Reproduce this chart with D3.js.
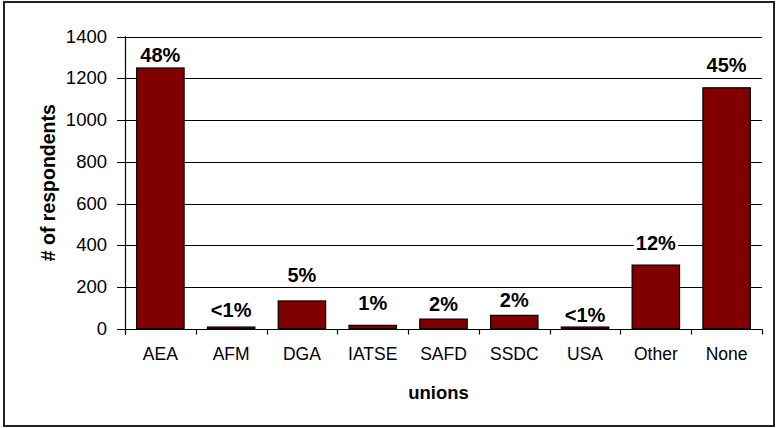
<!DOCTYPE html>
<html>
<head>
<meta charset="utf-8">
<script src="https://cdn.jsdelivr.net/npm/d3@7"></script>
<style>
  html, body { margin: 0; padding: 0; background: #fff; }
  svg { display: block; font-family: Arial, "Liberation Sans", sans-serif; }
</style>
</head>
<body>
<svg id="chart" width="776" height="428"></svg>
<script>
// ---- data ----
const categories = ["AEA", "AFM", "DGA", "IATSE", "SAFD", "SSDC", "USA", "Other", "None"];
const respondents = [1250, 8, 133, 16, 46, 64, 8, 305, 1155];
const percentLabels = ["48%", "<1%", "5%", "1%", "2%", "2%", "<1%", "12%", "45%"];
// value (in respondents) at which each label's baseline sits, as placed in the original
const labelAnchors = [1280, 57, 222, 90, 86, 103, 34, 377, 1229];
const yTicks = [0, 200, 400, 600, 800, 1000, 1200, 1400];
const xTitle = "unions";
const yTitle = "# of respondents";

// ---- layout ----
const W = 776, H = 428;
const plot = { left: 125, right: 762, top: 36.7, bottom: 328.7 };
const barColor = "#800000";

const svg = d3.select("#chart");

// outer frame
svg.append("rect")
  .attr("x", 4).attr("y", 2).attr("width", 770).attr("height", 424)
  .attr("fill", "#fff").attr("stroke", "#222").attr("stroke-width", 2);

const x = d3.scaleBand()
  .domain(categories)
  .range([plot.left, plot.right])
  .paddingInner(0.33)
  .paddingOuter(0.165);

const y = d3.scaleLinear()
  .domain([0, 1400])
  .range([plot.bottom, plot.top]);

const crisp = v => Math.round(v) + 0.5;

// gridlines
svg.append("g").selectAll("line")
  .data(yTicks.filter(t => t > 0))
  .join("line")
  .attr("x1", plot.left).attr("x2", plot.right)
  .attr("y1", d => crisp(y(d))).attr("y2", d => crisp(y(d)))
  .attr("stroke", "#000").attr("stroke-width", 1);

// y axis
const yAxis = d3.axisLeft(y).tickValues(yTicks).tickSize(8).tickPadding(10).tickFormat(d3.format("d"));
const gy = svg.append("g").attr("transform", `translate(${crisp(plot.left) - 0.5},0)`).call(yAxis);
gy.select(".domain").remove();
gy.selectAll(".tick line").attr("stroke", "#000");
gy.selectAll(".tick text")
  .attr("font-size", 18.5).attr("fill", "#000")
  .attr("font-family", "Arial, 'Liberation Sans', sans-serif");
gy.selectAll(".tick").attr("transform", d => `translate(0,${crisp(y(d))})`);

// bars
svg.append("g").selectAll("rect")
  .data(categories)
  .join("rect")
  .attr("x", (d) => x(d))
  .attr("width", x.bandwidth())
  .attr("y", (d, i) => y(respondents[i]))
  .attr("height", (d, i) => y(0) - y(respondents[i]))
  .attr("fill", barColor)
  .attr("stroke", "#000")
  .attr("stroke-width", 1.2);

// y axis line
svg.append("line")
  .attr("x1", crisp(plot.left)).attr("x2", crisp(plot.left))
  .attr("y1", plot.top - 0.5).attr("y2", crisp(plot.bottom) + 5)
  .attr("stroke", "#000").attr("stroke-width", 1.2);

// x axis line
svg.append("line")
  .attr("x1", plot.left).attr("x2", plot.right + 0.5)
  .attr("y1", crisp(plot.bottom)).attr("y2", crisp(plot.bottom))
  .attr("stroke", "#000").attr("stroke-width", 1.2);

// x tick marks at band boundaries
const boundaries = categories.map(c => x(c) - x.step() * x.paddingInner() / 2)
  .concat([plot.right]);
svg.append("g").selectAll("line")
  .data(boundaries)
  .join("line")
  .attr("x1", d => crisp(d)).attr("x2", d => crisp(d))
  .attr("y1", crisp(plot.bottom)).attr("y2", crisp(plot.bottom) + 5)
  .attr("stroke", "#000").attr("stroke-width", 1.2);

// category labels
svg.append("g").selectAll("text")
  .data(categories)
  .join("text")
  .attr("x", d => x(d) + x.bandwidth() / 2)
  .attr("y", 360)
  .attr("text-anchor", "middle")
  .attr("font-size", 17.5)
  .attr("fill", "#000")
  .text(d => d);

// data labels with white background
const lbl = svg.append("g").selectAll("g")
  .data(categories)
  .join("g")
  .attr("transform", (d, i) => `translate(${x(d) + x.bandwidth() / 2},${y(labelAnchors[i])})`);
lbl.append("text")
  .attr("text-anchor", "middle")
  .attr("font-size", 20)
  .attr("font-weight", "bold")
  .attr("fill", "#000")
  .text((d, i) => percentLabels[i]);
lbl.each(function() {
  const g = d3.select(this);
  const b = g.select("text").node().getBBox();
  g.insert("rect", "text")
    .attr("x", b.x - 2).attr("y", b.y + 1)
    .attr("width", b.width + 4).attr("height", b.height - 2)
    .attr("fill", "#fff");
});

// axis titles
svg.append("text")
  .attr("x", (plot.left + plot.right) / 2 - 5)
  .attr("y", 399)
  .attr("text-anchor", "middle")
  .attr("font-size", 18.5).attr("font-weight", "bold").attr("fill", "#000")
  .text(xTitle);

svg.append("text")
  .attr("transform", `translate(55,${(plot.top + plot.bottom) / 2}) rotate(-90)`)
  .attr("text-anchor", "middle")
  .attr("font-size", 19.5).attr("font-weight", "bold").attr("fill", "#000")
  .text(yTitle);
</script>
</body>
</html>
